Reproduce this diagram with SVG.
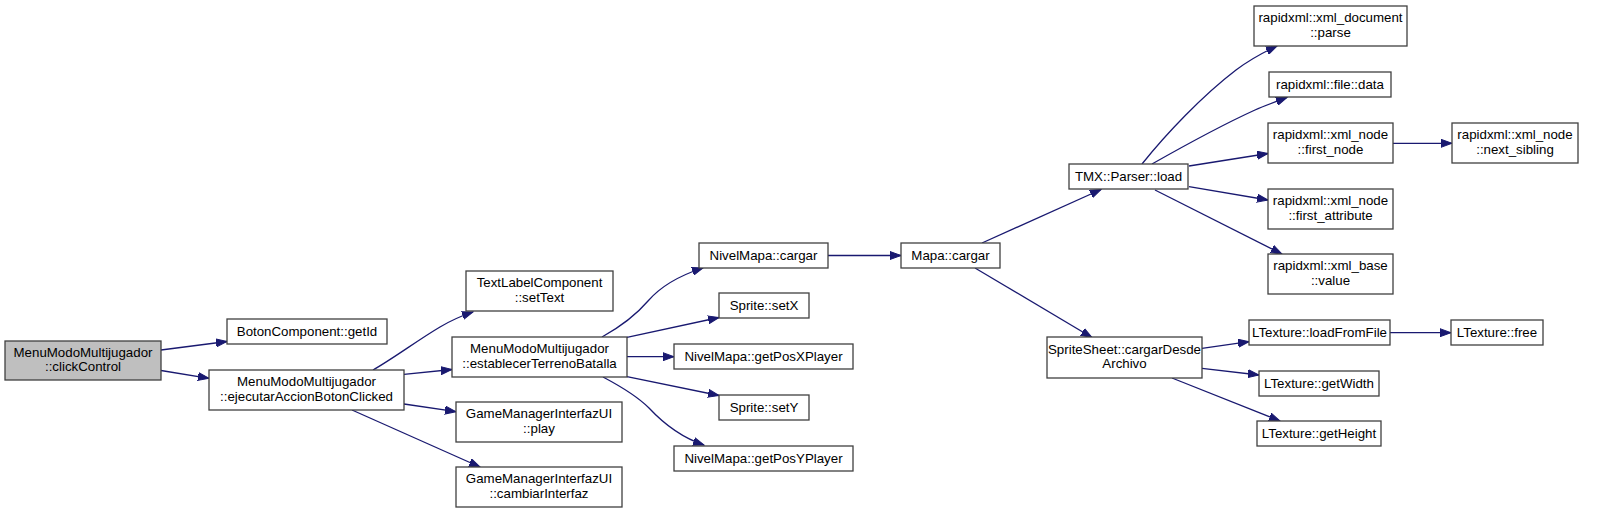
<svg xmlns="http://www.w3.org/2000/svg" width="1620" height="513" viewBox="0 0 1620 513">
<defs>
<style>
.n rect{fill:#ffffff;stroke:#404040;stroke-width:1.3}
.n.root rect{fill:#bfbfbf}
.n text{font-family:"Liberation Sans",Arial,sans-serif;font-size:13.3px;fill:#000;text-anchor:middle}
.e path{fill:none;stroke:#191970;stroke-width:1.3;marker-end:url(#arr)}
</style>
<marker id="arr" markerUnits="userSpaceOnUse" markerWidth="12" markerHeight="9" refX="11" refY="4.5" orient="auto">
<path d="M0,0.5 L11,4.5 L0,8.5 z" fill="#191970" stroke="#191970" stroke-width="1"/>
</marker>
</defs>
<rect width="1620" height="513" fill="#ffffff"/>
<g id="edges" class="e">
<path d="M161,350 L227,341.5"/>
<path d="M161,370.5 L209,378.3"/>
<path d="M373,370 C394,358 418,340 440,327 C450,321 461,316 473,312"/>
<path d="M404,374.3 L452,369.5"/>
<path d="M404,404 L456,411.7"/>
<path d="M352,410 L480,467"/>
<path d="M602,337 C620,327 636,315 648,301 C661,286 678,276 703,268"/>
<path d="M627,337.3 L719,317.5"/>
<path d="M627,356.7 L674,356.7"/>
<path d="M627,376.7 L719,395.5"/>
<path d="M603,377 C620,386 637,396 649,408 C663,423 680,437 704,445"/>
<path d="M828,255.5 L901,255.5"/>
<path d="M982,243 L1101,189.5"/>
<path d="M975,268 L1092,337.5"/>
<path d="M1142,164 C1166,134 1202,96 1236,70 C1248,61 1262,53 1277,46"/>
<path d="M1152,164 C1182,147 1222,125 1255,110 C1264,106 1275,102 1287,97.5"/>
<path d="M1189,166 L1268,153.5"/>
<path d="M1189,186.7 L1268,200"/>
<path d="M1155,190 L1282,254"/>
<path d="M1393,143.3 L1452,143.3"/>
<path d="M1202,348.3 L1249,341.7"/>
<path d="M1202,368.3 L1259,375"/>
<path d="M1172,378 L1280,421"/>
<path d="M1390,332.7 L1451,332.7"/>
</g>
<g id="node0" class="n root"><rect x="5" y="341" width="156" height="39"/><text x="83" y="356.5">MenuModoMultijugador</text><text x="83" y="371">::clickControl</text></g>
<g id="node1" class="n"><rect x="227" y="319" width="160" height="25"/><text x="307" y="336">BotonComponent::getId</text></g>
<g id="node2" class="n"><rect x="209" y="370" width="195" height="40"/><text x="306.5" y="386">MenuModoMultijugador</text><text x="306.5" y="400.5">::ejecutarAccionBotonClicked</text></g>
<g id="node3" class="n"><rect x="466" y="271" width="147" height="40"/><text x="539.5" y="287">TextLabelComponent</text><text x="539.5" y="301.5">::setText</text></g>
<g id="node4" class="n"><rect x="452" y="337" width="175" height="40"/><text x="539.5" y="353">MenuModoMultijugador</text><text x="539.5" y="367.5">::establecerTerrenoBatalla</text></g>
<g id="node5" class="n"><rect x="456" y="402" width="166" height="40"/><text x="539" y="418">GameManagerInterfazUI</text><text x="539" y="432.5">::play</text></g>
<g id="node6" class="n"><rect x="456" y="467" width="166" height="40"/><text x="539" y="483">GameManagerInterfazUI</text><text x="539" y="497.5">::cambiarInterfaz</text></g>
<g id="node7" class="n"><rect x="699" y="243" width="129" height="25"/><text x="763.5" y="260">NivelMapa::cargar</text></g>
<g id="node8" class="n"><rect x="719" y="293" width="90" height="25"/><text x="764" y="310">Sprite::setX</text></g>
<g id="node9" class="n"><rect x="674" y="344" width="179" height="25"/><text x="763.5" y="361">NivelMapa::getPosXPlayer</text></g>
<g id="node10" class="n"><rect x="719" y="395" width="90" height="25"/><text x="764" y="412">Sprite::setY</text></g>
<g id="node11" class="n"><rect x="674" y="446" width="179" height="25"/><text x="763.5" y="463">NivelMapa::getPosYPlayer</text></g>
<g id="node12" class="n"><rect x="901" y="243" width="99" height="25"/><text x="950.5" y="260">Mapa::cargar</text></g>
<g id="node13" class="n"><rect x="1069" y="164" width="119" height="25"/><text x="1128.5" y="181">TMX::Parser::load</text></g>
<g id="node14" class="n"><rect x="1047" y="337" width="155" height="41"/><text x="1124.5" y="353.5">SpriteSheet::cargarDesde</text><text x="1124.5" y="368">Archivo</text></g>
<g id="node15" class="n"><rect x="1254" y="6" width="153" height="40"/><text x="1330.5" y="22">rapidxml::xml_document</text><text x="1330.5" y="36.5">::parse</text></g>
<g id="node16" class="n"><rect x="1269" y="72" width="122" height="25"/><text x="1330" y="89">rapidxml::file::data</text></g>
<g id="node17" class="n"><rect x="1268" y="123" width="125" height="40"/><text x="1330.5" y="139">rapidxml::xml_node</text><text x="1330.5" y="153.5">::first_node</text></g>
<g id="node18" class="n"><rect x="1452" y="123" width="126" height="40"/><text x="1515" y="139">rapidxml::xml_node</text><text x="1515" y="153.5">::next_sibling</text></g>
<g id="node19" class="n"><rect x="1268" y="189" width="125" height="40"/><text x="1330.5" y="205">rapidxml::xml_node</text><text x="1330.5" y="219.5">::first_attribute</text></g>
<g id="node20" class="n"><rect x="1268" y="254" width="125" height="40"/><text x="1330.5" y="270">rapidxml::xml_base</text><text x="1330.5" y="284.5">::value</text></g>
<g id="node21" class="n"><rect x="1249" y="320" width="141" height="25"/><text x="1319.5" y="337">LTexture::loadFromFile</text></g>
<g id="node22" class="n"><rect x="1451" y="320" width="92" height="25"/><text x="1497" y="337">LTexture::free</text></g>
<g id="node23" class="n"><rect x="1259" y="371" width="120" height="25"/><text x="1319" y="388">LTexture::getWidth</text></g>
<g id="node24" class="n"><rect x="1257" y="421" width="124" height="25"/><text x="1319" y="438">LTexture::getHeight</text></g>
</svg>
